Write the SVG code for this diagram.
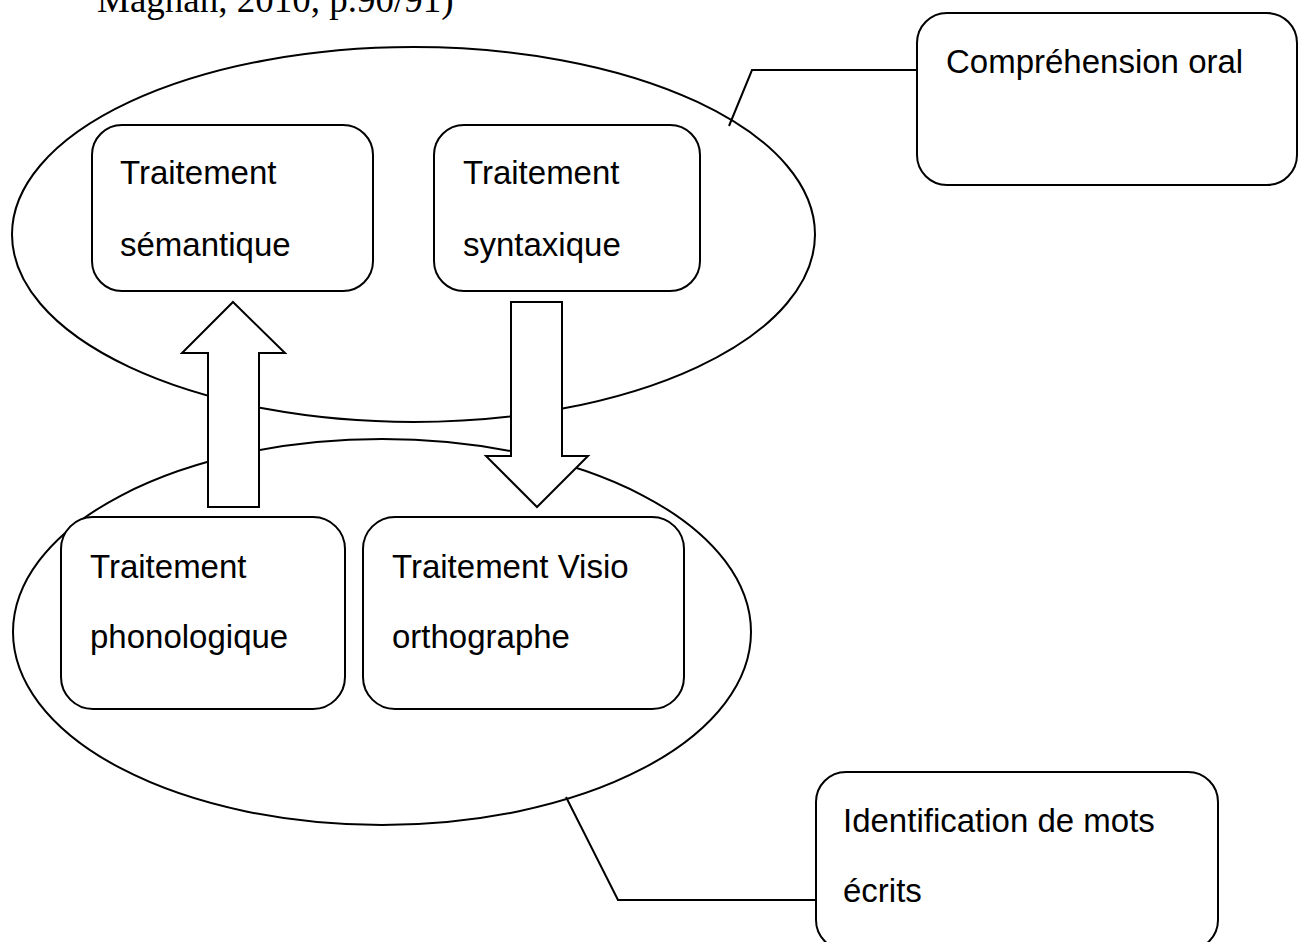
<svg xmlns="http://www.w3.org/2000/svg" width="1298" height="942" viewBox="0 0 1298 942">
<style>
.bg{fill:#ffffff}
.ell{fill:none;stroke:#000;stroke-width:2}
.box{fill:#ffffff;stroke:#000;stroke-width:2}
.arrow{fill:#ffffff;stroke:#000;stroke-width:2;stroke-linejoin:miter}
.lead{fill:none;stroke:#000;stroke-width:2}
.lbl{font-family:"Liberation Sans",Arial,sans-serif;font-size:33px;fill:#000}
.cite{font-family:"Liberation Serif","Times New Roman",serif;font-size:37px;fill:#000}
</style>
<rect class="bg" x="0" y="0" width="1298" height="942"/>
<text class="cite" x="97" y="12">Magnan, 2010, p.90/91)</text>
<g id="groups">
  <ellipse id="ellipse-oral" class="ell" cx="413.5" cy="234.5" rx="401.5" ry="187.5"/>
  <ellipse id="ellipse-ecrit" class="ell" cx="382" cy="632" rx="369" ry="193"/>
</g>
<g id="connectors">
  <polyline class="lead" points="729,126 752,70 917,70"/>
  <polyline class="lead" points="566,797 618,900 817,900"/>
  <polygon id="arrow-up" class="arrow" points="233,302 285,353 259,353 259,507 208,507 208,353 182,353"/>
  <polygon id="arrow-down" class="arrow" points="511,302 562,302 562,456 588,456 537,507 486,456 511,456"/>
</g>
<g id="node-semantique">
  <rect class="box" x="92" y="125" width="281" height="166" rx="30" ry="30"/>
  <text class="lbl" x="120" y="184">Traitement</text>
  <text class="lbl" x="120" y="256">sémantique</text>
</g>
<g id="node-syntaxique">
  <rect class="box" x="434" y="125" width="266" height="166" rx="30" ry="30"/>
  <text class="lbl" x="463" y="184">Traitement</text>
  <text class="lbl" x="463" y="256">syntaxique</text>
</g>
<g id="node-phonologique">
  <rect class="box" x="61" y="517" width="284" height="192" rx="32" ry="32"/>
  <text class="lbl" x="90" y="578">Traitement</text>
  <text class="lbl" x="90" y="648">phonologique</text>
</g>
<g id="node-visio">
  <rect class="box" x="363" y="517" width="321" height="192" rx="32" ry="32"/>
  <text class="lbl" x="392" y="578">Traitement Visio</text>
  <text class="lbl" x="392" y="648">orthographe</text>
</g>
<g id="node-comprehension">
  <rect class="box" x="917" y="13" width="380" height="172" rx="30" ry="30"/>
  <text class="lbl" x="946" y="73">Compréhension oral</text>
</g>
<g id="node-identification">
  <rect class="box" x="816" y="772" width="402" height="178" rx="30" ry="30"/>
  <text class="lbl" x="843" y="832">Identification de mots</text>
  <text class="lbl" x="843" y="902">écrits</text>
</g>
</svg>
